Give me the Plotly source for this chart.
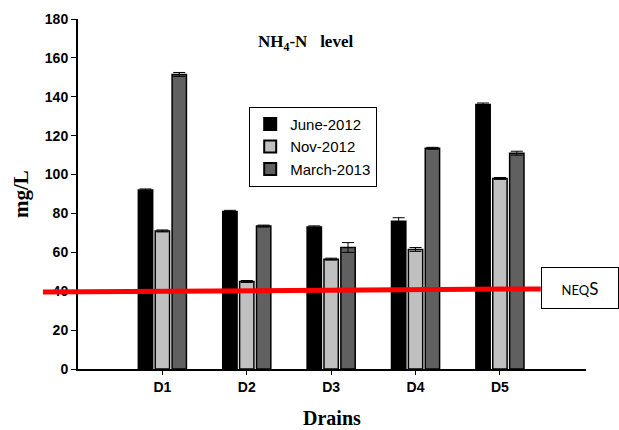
import plotly.graph_objects as go

drains = ["D1", "D2", "D3", "D4", "D5"]
june_2012 = [92, 81, 73, 76, 136]
nov_2012 = [71, 45, 56.5, 61.5, 98]
march_2013 = [151.5, 73.5, 62.5, 113.5, 111]
june_err = [0.6, 0.6, 0.6, 1.8, 0.8]
nov_err = [0.5, 0.5, 0.5, 1.0, 0.5]
march_err = [1.0, 0.5, 2.5, 0.5, 1.0]
neqs_start, neqs_end = 39.6, 41.2

series = [
    ("June-2012", june_2012, june_err, "#000000"),
    ("Nov-2012", nov_2012, nov_err, "#c0c0c0"),
    ("March-2013", march_2013, march_err, "#606060"),
]

fig = go.Figure()
for name, vals, err, col in series:
    fig.add_trace(go.Bar(
        name=name, x=drains, y=vals, marker_color=col,
        marker_line=dict(color="black", width=1.5),
        error_y=dict(type="data", array=err, visible=True, color="black",
                     thickness=1, width=6),
    ))

fig.add_shape(type="line", xref="paper", yref="y", x0=-0.069, x1=0.911,
              y0=neqs_start, y1=neqs_end, line=dict(color="#ff0000", width=5))

fig.add_annotation(xref="paper", yref="paper", x=0.447, y=0.931,
                   xanchor="center", yanchor="middle",
                   text="NH<sub>4</sub>-N&nbsp;&nbsp;&nbsp;level", showarrow=False,
                   font=dict(family="Liberation Serif", size=17, color="black", weight="bold"))
fig.add_annotation(xref="paper", yref="paper", x=-0.112, y=0.5, textangle=-90,
                   xanchor="center", yanchor="middle",
                   text="mg/L", showarrow=False,
                   font=dict(family="Liberation Serif", size=21, color="black", weight="bold"))
fig.add_annotation(xref="paper", yref="paper", x=0.5, y=-0.14,
                   xanchor="center", yanchor="middle",
                   text="Drains", showarrow=False,
                   font=dict(family="Liberation Serif", size=20, color="black", weight="bold"))
fig.add_annotation(xref="paper", yref="paper", x=0.988, y=0.231,
                   xanchor="center", yanchor="middle",
                   text="<span style='font-size:13px'>NEQ</span><span style='font-size:17px'>S</span>",
                   showarrow=False, width=74, height=38, bgcolor="white",
                   bordercolor="black", borderwidth=1,
                   font=dict(family="Lato", size=14, color="black"))

fig.update_layout(
    width=619, height=430,
    margin=dict(l=78, r=33, t=19, b=61),
    plot_bgcolor="white", paper_bgcolor="white",
    barmode="group", bargap=0.4, bargroupgap=0.15,
    showlegend=True,
    legend=dict(x=0.337, y=0.749, xanchor="left", yanchor="top",
                bordercolor="black", borderwidth=1, bgcolor="white",
                font=dict(family="Liberation Sans", size=15, color="black"),
                tracegroupgap=0, itemsizing="constant"),
    xaxis=dict(range=[-1, 5.02], showline=True, linecolor="black", linewidth=2,
               ticks="outside", ticklen=4, tickcolor="black", showgrid=False,
               tickfont=dict(family="Liberation Sans", size=14, color="black", weight="bold")),
    yaxis=dict(range=[0, 180], dtick=20, showline=True, linecolor="black", linewidth=2,
               ticks="outside", ticklen=5, tickcolor="black", showgrid=False, zeroline=False,
               tickfont=dict(family="Liberation Sans", size=14, color="black", weight="bold")),
)

fig.write_html("out.html")
